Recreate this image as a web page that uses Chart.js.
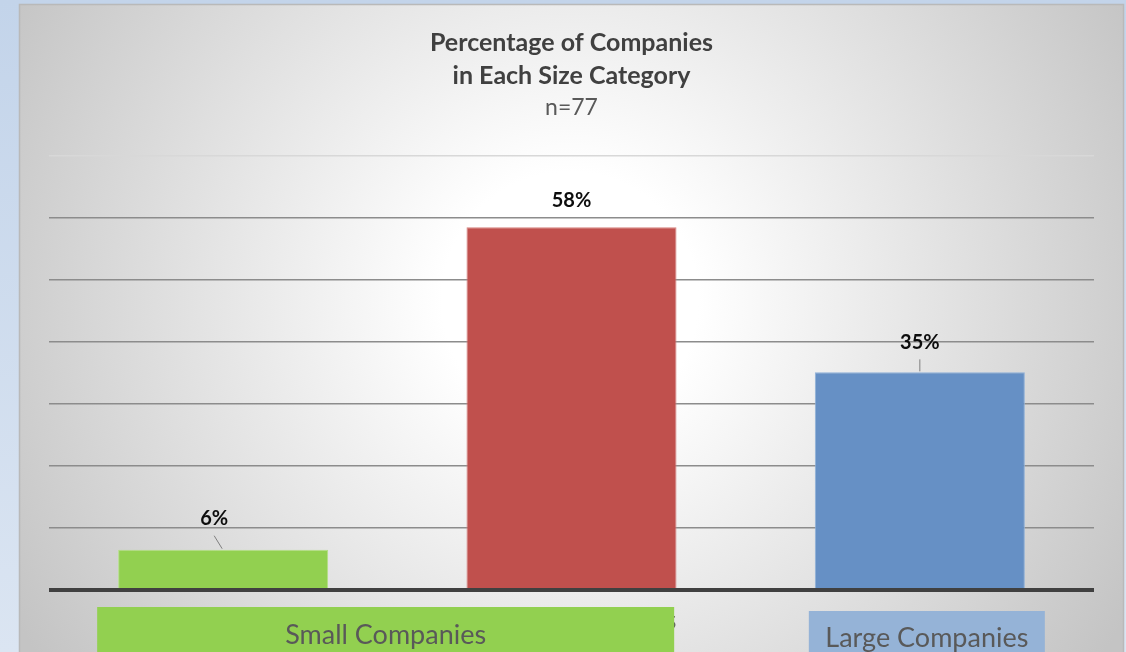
<!DOCTYPE html>
<html>
<head>
<meta charset="utf-8">
<script src="https://cdn.jsdelivr.net/npm/chart.js@4.4.1/dist/chart.umd.min.js"></script>
<style>
  html, body { margin: 0; padding: 0; background: #c8d8ec; }
  canvas { display: block; }
</style>
</head>
<body>
<canvas id="myChart" width="1126" height="652"></canvas>
<script>
var categories = ['Small Companies', 'Medium Companies', 'Large Companies'];
var percentages = [6.49, 58.44, 35.06];
var valueLabels = ['6%', '58%', '35%'];
var yTicks = [0, 10, 20, 30, 40, 50, 60, 70];

var barColors = ['#92d050', '#c0504d', '#6690c5'];
var barEdges = ['#b4e184', '#d6827f', '#8fb0d8'];

// where each value label sits, relative to the top of its bar
var labelPos = [
    { dx: -9, dy: -31, leader: true },
    { dx: 0, dy: -27, leader: false },
    { dx: 0, dy: -30, leader: true }
];
// coloured boxes under the axis, relative to category centre
var catBoxes = [
    { left: -126, right: 451, top: 607, color: '#92d050', textY: 635 },
    null,
    { left: -111, right: 125, top: 611, color: '#95b3d7', textY: 638 }
];

var FONT = 'Lato, "Open Sans", sans-serif';

var backdrop = {
    id: 'backdrop',
    beforeDraw: function(chart) {
        var ctx = chart.ctx;
        ctx.save();
        var bg = ctx.createLinearGradient(0, 0, 0, chart.height);
        bg.addColorStop(0, '#c3d4ea');
        bg.addColorStop(1, '#dbe5f2');
        ctx.fillStyle = bg;
        ctx.fillRect(0, 0, chart.width, chart.height);

        var g = ctx.createRadialGradient(570, 300, 0, 570, 300, 640);
        g.addColorStop(0, '#ffffff');
        g.addColorStop(0.2, '#ffffff');
        g.addColorStop(1, '#c4c4c4');
        ctx.fillStyle = g;
        ctx.fillRect(19, 4, 1105, 660);
        ctx.strokeStyle = '#b9b9b9';
        ctx.lineWidth = 1.5;
        ctx.strokeRect(19.5, 4.5, 1104, 660);
        ctx.restore();
    }
};

var valueLabelPlugin = {
    id: 'valueLabels',
    afterDatasetsDraw: function(chart) {
        var ctx = chart.ctx;
        var meta = chart.getDatasetMeta(0);
        ctx.save();
        meta.data.forEach(function(bar, i) {
            var p = labelPos[i];
            var lx = bar.x + p.dx;
            var ly = bar.y + p.dy;
            if (p.leader) {
                ctx.strokeStyle = '#7f7f7f';
                ctx.lineWidth = 1;
                ctx.beginPath();
                ctx.moveTo(lx, ly + 17);
                ctx.lineTo(bar.x - (p.dx ? 1 : 0), bar.y - 1);
                ctx.stroke();
            }
            ctx.fillStyle = '#0d0d0d';
            ctx.font = 'bold 20px ' + FONT;
            ctx.textAlign = 'center';
            ctx.textBaseline = 'middle';
            ctx.fillText(valueLabels[i], lx, ly);
        });
        ctx.restore();
    }
};

var categoryPlugin = {
    id: 'categoryBoxes',
    afterDraw: function(chart) {
        var ctx = chart.ctx;
        var xs = chart.scales.x;
        ctx.save();
        ctx.font = '27px ' + FONT;
        ctx.fillStyle = '#595959';
        // middle label sits underneath the green box, only its tail shows
        ctx.textAlign = 'right';
        ctx.textBaseline = 'alphabetic';
        ctx.fillText(categories[1], xs.getPixelForValue(1) + 105, 629);
        ctx.textAlign = 'center';
        ctx.textBaseline = 'middle';
        categories.forEach(function(name, i) {
            var b = catBoxes[i];
            if (!b) return;
            var cx = xs.getPixelForValue(i);
            ctx.fillStyle = b.color;
            ctx.fillRect(cx + b.left, b.top, b.right - b.left, chart.height - b.top);
            ctx.fillStyle = '#595959';
            ctx.fillText(name, cx + (b.left + b.right) / 2, b.textY);
        });
        ctx.restore();
    }
};

var myChart = new Chart(document.getElementById('myChart').getContext('2d'), {
    type: 'bar',
    data: {
        labels: categories,
        datasets: [{
            data: percentages,
            backgroundColor: barColors,
            borderColor: barEdges,
            borderWidth: 1,
            categoryPercentage: 1,
            barPercentage: 0.603
        }]
    },
    options: {
        responsive: false,
        animation: false,
        layout: { padding: { top: 26, left: 49, right: 32, bottom: 54 } },
        plugins: {
            legend: { display: false },
            tooltip: { enabled: false },
            title: {
                display: true,
                text: ['Percentage of Companies', 'in Each Size Category'],
                color: '#404040',
                font: { family: FONT, size: 25, weight: 'bold', lineHeight: 1.32 },
                padding: { top: 0, bottom: 0 }
            },
            subtitle: {
                display: true,
                text: 'n=77',
                color: '#595959',
                font: { family: FONT, size: 23, weight: 'normal', lineHeight: 1.15 },
                padding: { top: 2, bottom: 35 }
            }
        },
        scales: {
            x: {
                grid: { display: false },
                border: { display: false },
                ticks: { display: false }
            },
            y: {
                min: yTicks[0],
                max: yTicks[yTicks.length - 1],
                ticks: { display: false, stepSize: 10 },
                border: { display: false },
                grid: {
                    drawTicks: false,
                    color: function(c) {
                        if (c.tick.value === yTicks[0]) return '#404040';
                        if (c.tick.value === yTicks[yTicks.length - 1]) return '#d8d8d8';
                        return '#8c8c8c';
                    },
                    lineWidth: function(c) {
                        if (c.tick.value === yTicks[0]) return 4;
                        return 1.5;
                    }
                }
            }
        }
    },
    plugins: [backdrop, valueLabelPlugin, categoryPlugin]
});
</script>
</body>
</html>
